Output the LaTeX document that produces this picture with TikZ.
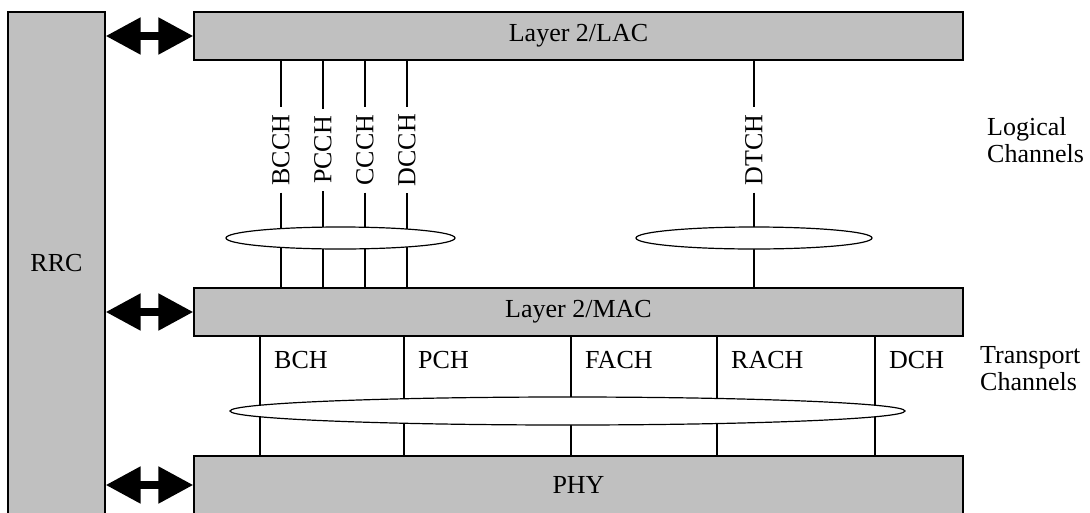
\documentclass[tikz,border=0pt]{standalone}
\usepackage{fontspec}
\setmainfont{Liberation Serif}
\usetikzlibrary{arrows.meta}
\definecolor{boxgrey}{HTML}{C0C0C0}
\tikzset{
  layerbox/.style={draw, fill=boxgrey, line width=1.2pt, inner sep=0pt},
  biarrow/.style={line width=8pt, {Triangle[length=35pt,width=35pt]}-{Triangle[length=35pt,width=35pt]}},
  chan/.style={line width=1.2pt},
  loglabel/.style={rotate=90, inner sep=7pt},
  translabel/.style={anchor=base west, inner sep=0pt},
  ring/.style={draw, fill=white, line width=1.2pt},
  sidetext/.style={anchor=west, align=left, inner sep=0pt}
}
\begin{document}
\begin{tikzpicture}[x=1pt, y=-1pt, font=\fontsize{26}{27}\selectfont]
\useasboundingbox (0,0) rectangle (1090,512);
% layer boxes
\node[layerbox, minimum width=97pt, minimum height=502pt] (rrc) at (56.5,263) {RRC};
\node[layerbox, minimum width=769pt, minimum height=48pt] (lac) at (578.5,36) {Layer 2/LAC};
\node[layerbox, minimum width=769pt, minimum height=48pt] (mac) at (578.5,312) {Layer 2/MAC};
\node[layerbox, minimum width=769pt, minimum height=58pt] (phy) at (578.5,485) {PHY};
% control arrows
\draw[biarrow] (lac.west -| rrc.east) -- (lac.west);
\draw[biarrow] (mac.west -| rrc.east) -- (mac.west);
\draw[biarrow] (phy.west -| rrc.east) -- (phy.west);
% logical channels
\foreach \nm/\xx in {BCCH/281, PCCH/323, CCCH/365, DCCH/407, DTCH/754} {
  \node[loglabel] (\nm) at (\xx,150) {\nm};
  \draw[chan] (lac.south -| \nm) -- (\nm);
  \draw[chan] (\nm) -- (mac.north -| \nm);
}
\draw[ring] (340.5,238) ellipse [x radius=114.5, y radius=11];
\draw[ring] (754,238) ellipse [x radius=118, y radius=11];
% transport channels
\foreach \nm/\xx in {BCH/260, PCH/404, FACH/571, RACH/717, DCH/875} {
  \draw[chan] (mac.south -| \xx,0) -- (phy.north -| \xx,0);
  \node[translabel] (\nm) at (\xx+14,368) {\nm};
}
\draw[ring] (567.5,411) ellipse [x radius=337.5, y radius=14];
% side texts
\node[sidetext] (logical) at (987,140) {Logical\\Channels};
\node[sidetext] (transport) at (980,369) {Transport\\Channels};
\end{tikzpicture}
\end{document}
